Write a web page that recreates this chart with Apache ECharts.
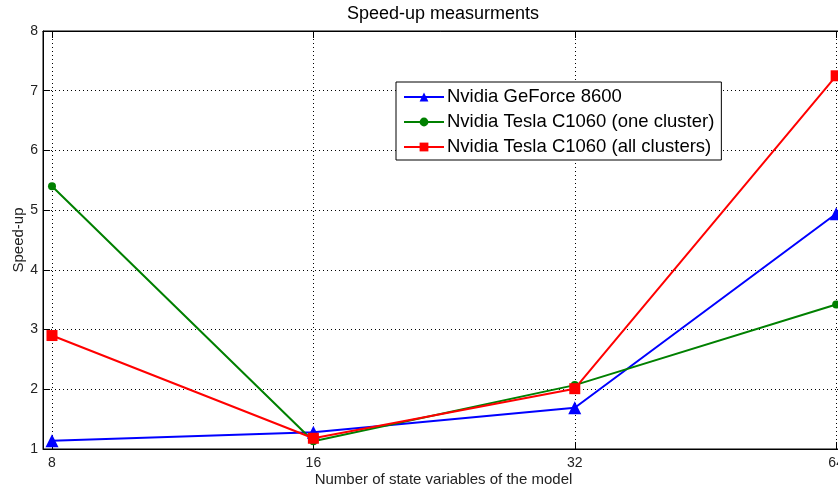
<!DOCTYPE html>
<html>
<head>
<meta charset="utf-8">
<script src="https://cdn.jsdelivr.net/npm/echarts@6/dist/echarts.min.js"></script>
<style>
html,body{margin:0;padding:0;background:#fff;}
#chart{width:838px;height:485px;}
</style>
</head>
<body>
<div id="chart"></div>
<script>
var categories = [8, 16, 32, 64];
var geforce8600 = [1.14, 1.28, 1.69, 4.94];
var teslaOneCluster = [5.40, 1.13, 2.07, 3.42];
var teslaAllClusters = [2.90, 1.18, 2.01, 7.25];
var yTicks = [1, 2, 3, 4, 5, 6, 7, 8];
var seriesNames = ['Nvidia GeForce 8600', 'Nvidia Tesla C1060 (one cluster)', 'Nvidia Tesla C1060 (all clusters)'];

var xTickPos = categories.map(function (c) { return Math.log2(c); });
function pts(vals) { return categories.map(function (c, i) { return [Math.log2(c), vals[i]]; }); }

var font = 'Liberation Sans, Arial, sans-serif';
var chart = echarts.init(document.getElementById('chart'), null, {renderer: 'canvas'});

var xCommon = {
  type: 'value',
  min: 2.9656,
  max: 6.03,
  axisLine: {show: true, lineStyle: {color: '#000', width: 1}},
  axisTick: {show: true, inside: true, length: 7, lineStyle: {color: '#000'}, customValues: xTickPos},
  splitLine: {show: false}
};

chart.setOption({
  backgroundColor: '#fff',
  animation: false,
  title: {
    text: 'Speed-up measurments',
    left: 443, textAlign: 'center', top: 5, padding: 0,
    textStyle: {fontFamily: font, fontSize: 18, fontWeight: 'normal', color: '#000'}
  },
  legend: {
    orient: 'vertical',
    left: 396, top: 82,
    padding: [5, 7, 3, 7],
    backgroundColor: '#fff',
    borderColor: '#000', borderWidth: 1, borderRadius: 0,
    itemWidth: 40, itemHeight: 11, itemGap: 5,
    textStyle: {fontFamily: font, fontSize: 18.5, color: '#000', lineHeight: 20, padding: [0, 0, 0, -2]},
    data: seriesNames
  },
  grid: {left: 43, top: 31, width: 801, height: 418, outerBoundsMode: 'none', containLabel: false,
    show: true, borderColor: '#000', borderWidth: 1, backgroundColor: 'transparent'},
  xAxis: [
    Object.assign({}, xCommon, {
      position: 'bottom',
      name: 'Number of state variables of the model',
      nameLocation: 'middle', nameGap: 23, nameMoveOverlap: false,
      nameTextStyle: {fontFamily: font, fontSize: 15, color: '#222'},
      axisLabel: {show: true, customValues: xTickPos, margin: 7,
        fontFamily: font, fontSize: 14, color: '#222',
        formatter: function (v) { return String(Math.round(Math.pow(2, v))); }},
      splitLine: {show: true, lineStyle: {color: '#000', type: [1, 3], width: 1}}
    }),
    Object.assign({}, xCommon, {position: 'top', axisLabel: {show: false}})
  ],
  yAxis: [
    {
      type: 'value', min: 1, max: 8, interval: 1, position: 'left',
      name: 'Speed-up', nameLocation: 'middle', nameGap: 17, nameMoveOverlap: false,
      nameTextStyle: {fontFamily: font, fontSize: 15, color: '#222'},
      axisLine: {show: true, lineStyle: {color: '#000'}},
      axisTick: {show: true, inside: true, length: 7, lineStyle: {color: '#000'}},
      axisLabel: {margin: 5, fontFamily: font, fontSize: 14, color: '#222',
        formatter: function (v) { return yTicks.indexOf(v) >= 0 ? String(v) : ''; }},
      splitLine: {show: true, lineStyle: {color: '#000', type: [1, 3], width: 1}}
    },
    {
      type: 'value', min: 1, max: 8, interval: 1, position: 'right',
      axisLine: {show: true, lineStyle: {color: '#000'}},
      axisTick: {show: true, inside: true, length: 7, lineStyle: {color: '#000'}},
      axisLabel: {show: false}, splitLine: {show: false}
    }
  ],
  series: [
    {
      name: seriesNames[0], type: 'line', data: pts(geforce8600),
      symbol: 'triangle', symbolSize: 13,
      lineStyle: {color: '#0000ff', width: 2}, itemStyle: {color: '#0000ff'}, z: 3
    },
    {
      name: seriesNames[1], type: 'line', data: pts(teslaOneCluster),
      symbol: 'circle', symbolSize: 8,
      lineStyle: {color: '#008000', width: 2}, itemStyle: {color: '#008000'}, z: 4
    },
    {
      name: seriesNames[2], type: 'line', data: pts(teslaAllClusters),
      symbol: 'rect', symbolSize: 11,
      lineStyle: {color: '#ff0000', width: 2}, itemStyle: {color: '#ff0000'}, z: 5
    }
  ]
});
</script>
</body>
</html>
